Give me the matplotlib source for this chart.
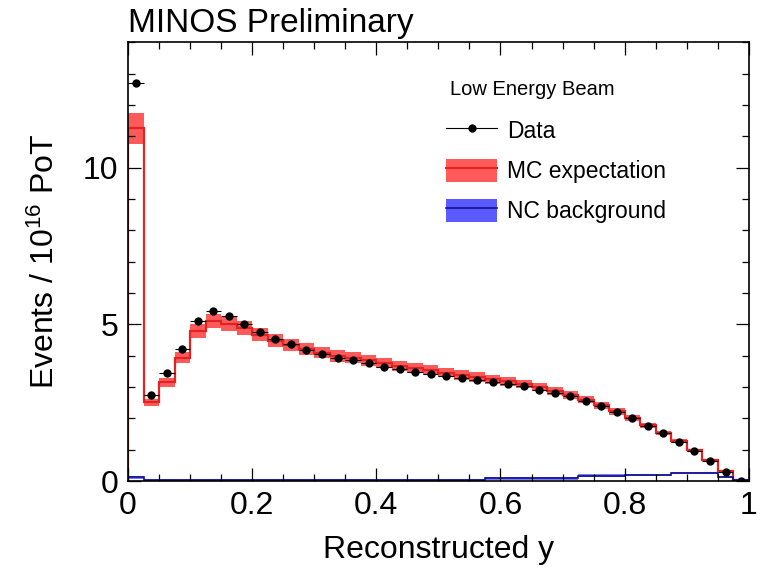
import matplotlib

matplotlib.use("Agg")
import matplotlib.pyplot as plt
import numpy as np
from matplotlib.lines import Line2D
from matplotlib.patches import Patch
from matplotlib.ticker import FuncFormatter, MultipleLocator

plt.rcParams["font.family"] = ["Liberation Sans", "DejaVu Sans"]
plt.rcParams["mathtext.default"] = "regular"

# %% Data (40 bins of 0.025)
BIN_WIDTH = 0.025
data = [12.70, 2.73, 3.45, 4.21, 5.11, 5.41, 5.27, 5.02, 4.77, 4.53,
        4.38, 4.19, 4.04, 3.92, 3.85, 3.76, 3.65, 3.56, 3.48, 3.42,
        3.34, 3.28, 3.22, 3.15, 3.10, 3.03, 2.92, 2.82, 2.70, 2.56,
        2.39, 2.20, 2.01, 1.76, 1.52, 1.26, 0.96, 0.63, 0.28, 0.01]
data_err = 0.06
mc = [11.25, 2.52, 3.15, 3.93, 4.78, 5.10, 5.00, 4.88, 4.67, 4.48,
      4.35, 4.20, 4.10, 3.99, 3.94, 3.86, 3.77, 3.68, 3.60, 3.53,
      3.46, 3.39, 3.32, 3.25, 3.18, 3.10, 3.00, 2.88, 2.75, 2.60,
      2.42, 2.22, 2.02, 1.78, 1.53, 1.27, 0.98, 0.66, 0.33, 0.05]
mc_rel_err = 0.045
nc = [0.12, 0.03, 0.03, 0.03, 0.03, 0.03, 0.03, 0.03, 0.03, 0.03,
      0.03, 0.03, 0.03, 0.03, 0.03, 0.03, 0.03, 0.03, 0.03, 0.03,
      0.03, 0.03, 0.03, 0.09, 0.09, 0.09, 0.09, 0.09, 0.09, 0.17,
      0.17, 0.17, 0.19, 0.19, 0.19, 0.25, 0.25, 0.25, 0.13, 0.03]
nc_err = 0.04

edges = np.arange(len(data) + 1) * BIN_WIDTH
centers = edges[:-1] + BIN_WIDTH / 2
mc = np.array(mc)
nc = np.array(nc)

RED_BAND = "#ff5a5a"
RED_LINE = "#e02424"
BLUE_BAND = "#5a5aff"
BLUE_LINE = "#10108f"

# %% Figure
fig, ax = plt.subplots(figsize=(7.68, 5.7), dpi=100)
fig.subplots_adjust(left=0.1667, right=0.975, bottom=0.156, top=0.926)

ax.stairs(mc * (1 + mc_rel_err), edges, baseline=mc * (1 - mc_rel_err),
          fill=True, color=RED_BAND, lw=0)
ax.stairs(mc, edges, baseline=0, color=RED_LINE, lw=1.6)
ax.stairs(nc + nc_err, edges, baseline=np.clip(nc - nc_err, 0, None),
          fill=True, color=BLUE_BAND, lw=0, alpha=0.8)
ax.stairs(nc, edges, baseline=0, color=BLUE_LINE, lw=1.2)
ax.errorbar(centers, data, xerr=BIN_WIDTH / 2, yerr=data_err, fmt="o",
            color="k", ms=5, lw=0.8, capsize=0, zorder=5)

ax.set_xlim(0, 1)
ax.set_ylim(0, 14)
ax.xaxis.set_major_locator(MultipleLocator(0.2))
ax.xaxis.set_minor_locator(MultipleLocator(0.05))
ax.yaxis.set_major_locator(MultipleLocator(5))
ax.yaxis.set_minor_locator(MultipleLocator(1))
ax.xaxis.set_major_formatter(FuncFormatter(lambda v, _: f"{v:g}"))
ax.tick_params(which="both", direction="in", top=True, right=True,
               labelsize=23, width=0.9)
ax.tick_params(which="major", length=9.5, pad=7)
ax.tick_params(which="minor", length=5)
for sp in ax.spines.values():
    sp.set_linewidth(1.2)

ax.set_xlabel("Reconstructed y", fontsize=23, labelpad=10)
ax.set_ylabel("Events / 10$^{16}$ PoT", fontsize=23, labelpad=16)
ax.set_title("MINOS Preliminary", loc="left", fontsize=24, pad=7)

# legend: header as plain text, entries below it
ax.text(0.518, 0.893, "Low Energy Beam", transform=ax.transAxes,
        fontsize=14.5, ha="left", va="center")
handles = [
    Line2D([], [], color="k", marker="o", ms=5, lw=0.8),
    (Patch(facecolor=RED_BAND, lw=0), Line2D([], [], color=RED_LINE, lw=1.6)),
    (Patch(facecolor=BLUE_BAND, lw=0), Line2D([], [], color=BLUE_LINE, lw=1.2)),
]
ax.legend(handles, ["Data", "MC expectation", "NC background"],
          fontsize=16.5, frameon=False, loc="upper left",
          bbox_to_anchor=(0.513, 0.826), handlelength=2.2, handleheight=1.2,
          labelspacing=0.68, handletextpad=0.45, borderpad=0,
          borderaxespad=0)

fig.savefig("out.png", dpi=100)
